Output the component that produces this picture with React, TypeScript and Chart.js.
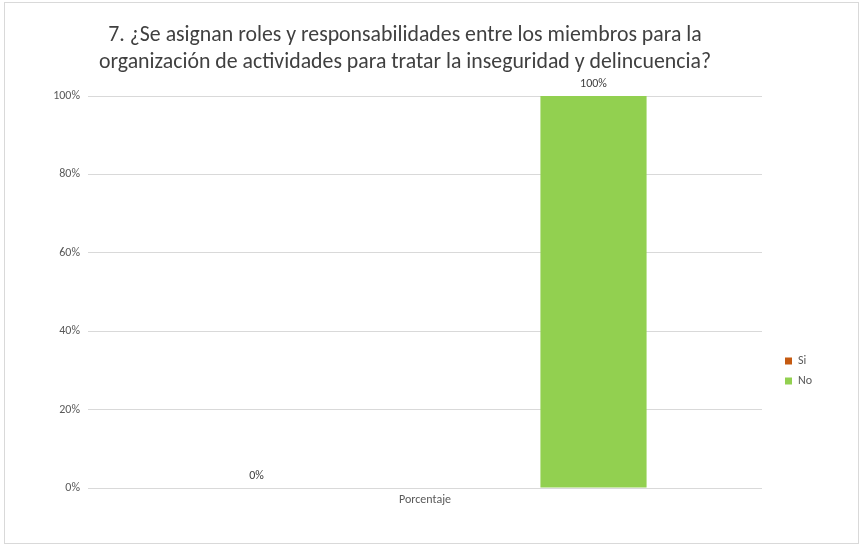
import React, { useEffect, useRef } from "react";
import { Chart, registerables } from "chart.js";

Chart.register(...registerables);

const titleLines = [
  "7. ¿Se asignan roles y responsabilidades entre los miembros para la",
  "organización de actividades para tratar la inseguridad y delincuencia?",
];
const categories = ["Porcentaje"];
const seriesNames = ["Si", "No"];
const siValues = [0];
const noValues = [100];
const yTicks = [0, 20, 40, 60, 80, 100];

const FONT = "Carlito, Calibri, Lato, sans-serif";
const TEXT = "#595959";

const positionPlugin = {
  id: "positionPlugin",
  afterLayout(chart: any) {
    const lg = chart.legend;
    if (lg) {
      const w = lg.width;
      lg.left = 772;
      lg.right = 772 + w;
      lg.top = 344;
      lg.bottom = 344 + 60;
      lg.height = 60;
    }
    const t = chart.titleBlock;
    if (t) {
      t.left = 0;
      t.right = 800;
      t.width = 800;
    }
  },
};

const dataLabelPlugin = {
  id: "dataLabelPlugin",
  afterDatasetsDraw(chart: any) {
    const ctx = chart.ctx;
    ctx.save();
    ctx.font = `12px ${FONT}`;
    ctx.fillStyle = "#404040";
    ctx.textAlign = "center";
    ctx.textBaseline = "bottom";
    chart.data.datasets.forEach((ds: any, i: number) => {
      const meta = chart.getDatasetMeta(i);
      meta.data.forEach((el: any, j: number) => {
        const v = ds.data[j];
        ctx.fillText(`${v}%`, el.x, el.y - 6);
      });
    });
    ctx.restore();
  },
};

export default function App() {
  const ref = useRef<HTMLCanvasElement | null>(null);
  useEffect(() => {
    if (!ref.current) return;
    const chart = new Chart(ref.current, {
      type: "bar",
      data: {
        labels: categories,
        datasets: [
          { label: seriesNames[0], data: siValues, backgroundColor: "#C55A11" },
          { label: seriesNames[1], data: noValues, backgroundColor: "#92D050" },
        ],
      },
      options: {
        responsive: false,
        animation: false,
        layout: { padding: { left: 0, right: 96, top: 0, bottom: 36 } },
        datasets: {
          bar: { categoryPercentage: 1, barPercentage: 0.315 },
        } as any,
        plugins: {
          title: {
            display: true,
            text: titleLines,
            color: "#404040",
            font: { family: FONT, size: 21.8, weight: "normal", lineHeight: 1.24 },
            padding: { top: 19.5, bottom: 19.5 },
          },
          legend: {
            position: "chartArea" as any,
            align: "start",
            labels: {
              boxWidth: 7,
              boxHeight: 7,
              padding: 8,
              color: TEXT,
              font: { family: FONT, size: 12 },
            },
          },
          tooltip: { enabled: false },
        },
        scales: {
          x: {
            grid: { display: false, drawTicks: false },
            border: { display: false },
            ticks: { color: TEXT, font: { family: FONT, size: 12 }, padding: 5 },
            afterFit: (s: any) => {
              s.height = 19;
            },
          },
          y: {
            min: 0,
            max: 100,
            afterBuildTicks: (s: any) => {
              s.ticks = yTicks.map((v) => ({ value: v }));
            },
            afterFit: (s: any) => {
              s.width = 83;
            },
            grid: { color: "#d9d9d9", drawTicks: false },
            border: { display: false },
            ticks: {
              color: TEXT,
              font: { family: FONT, size: 12 },
              padding: 8,
              callback: (v: any) => `${v}%`,
            },
          },
        },
      },
      plugins: [positionPlugin, dataLabelPlugin],
    });
    return () => chart.destroy();
  }, []);
  return (
    <div
      style={{
        position: "fixed",
        left: 4,
        top: 2,
        width: 855,
        height: 542,
        border: "1px solid #d9d9d9",
        boxSizing: "border-box",
        background: "#fff",
      }}
    >
      <canvas ref={ref} width={853} height={540} style={{ display: "block" }} />
    </div>
  );
}
